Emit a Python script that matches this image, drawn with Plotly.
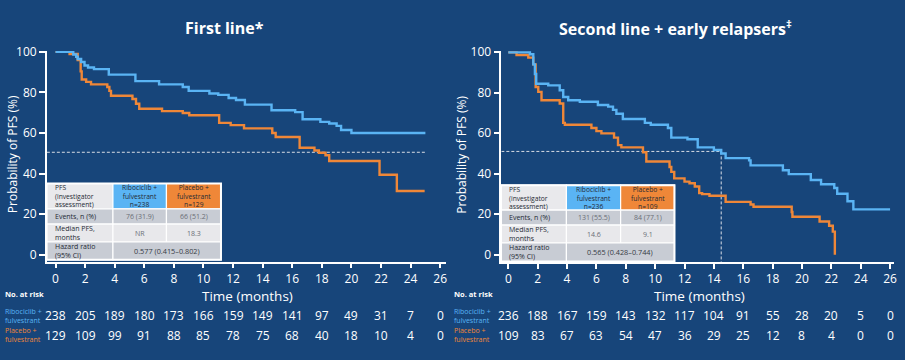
import plotly.graph_objects as go

# ---------------- data ----------------
# First line: Kaplan-Meier steps (months, % PFS)
FL_RIB_T = [0, 1.2, 1.4, 1.5, 1.73, 1.96, 2.2, 2.6, 3.6, 5.4, 7.0, 8.6, 9.0, 10.4, 11.0, 11.7,
            12.2, 12.8, 14.6, 16.2, 16.7, 17.9, 18.5, 19.0, 19.3, 20.0, 25.0]
FL_RIB_S = [100, 98.7, 97.6, 96.5, 95, 93.3, 92.3, 91.5, 88.8, 85.6, 84, 82.7, 80.8, 79.5, 78.8, 77.3,
            76.3, 74, 71.2, 70.3, 66.8, 65.5, 64.7, 63.5, 61.5, 60, 60]
FL_PBO_T = [0, 0.95, 1.5, 1.7, 1.77, 2.07, 2.4, 3.5, 3.64, 3.75, 5.2, 5.44, 5.66, 7.2, 8.6, 9.04,
            11.06, 11.84, 12.74, 14.65, 14.88, 16.5, 17.5, 17.8, 18.25, 18.5, 21.9, 23.07, 24.95]
FL_PBO_S = [100, 99, 96, 90.4, 86.4, 85.2, 84, 82.7, 80.8, 78.4, 76.8, 74.4, 72, 70.8, 69.9, 68.75,
            65, 63.9, 62.3, 60, 58, 52.7, 51.4, 50.3, 49, 46.2, 39.4, 31.4, 31.4]

# Second line + early relapsers
SL_RIB_T = [0, 1.47, 1.7, 1.81, 1.9, 2.72, 3.5, 3.74, 4.08, 4.87, 6.1, 6.8, 7.13, 7.36, 7.8, 9.3, 9.7,
            10.87, 11.1, 12.2, 12.9, 14.0, 14.5, 14.8, 16.4, 16.5, 18.7, 19.1, 20.6, 21.3, 22.2, 22.4,
            23.1, 23.5, 26.0]
SL_RIB_S = [100, 99, 94, 89.2, 84.4, 83.6, 81.2, 77.9, 76.3, 75.5, 73.9, 73.1, 71.5, 69.6, 67, 65.1, 64.2,
            62.6, 57.8, 57, 53, 51.7, 50, 47.7, 46.6, 44.1, 41.7, 39.8, 36.9, 34.8, 32.9, 30.1,
            26.4, 22.4, 22.4]
SL_PBO_T = [0, 0.56, 1.36, 1.7, 1.86, 2.04, 2.26, 3.5, 3.74, 3.85, 5.66, 6.0, 6.34, 7.2, 7.47, 7.7,
            9.17, 9.4, 10.98, 11.1, 11.3, 12.0, 12.34, 12.7, 13.0, 13.2, 13.7, 14.8, 16.5, 16.7,
            19.3, 19.35, 21.2, 21.85, 22.1, 22.24]
SL_PBO_S = [100, 98.6, 97.3, 94, 82.8, 80.4, 76.3, 74.7, 65.1, 64.2, 62.6, 61, 59.9, 57.8, 54.1, 53,
            50.6, 46, 43.3, 40.9, 37.7, 36.1, 35.3, 33.7, 30.4, 29.9, 29.1, 26.1, 24.8, 23.7,
            21.1, 18.7, 16.4, 14.3, 11.4, 0]

# Median reference lines
FL_MEDIAN_LEVEL = 50.5
FL_LINE_END = 25.0
SL_MEDIAN_LEVEL = 51
SL_MEDIAN_TIME = 14.5

# Numbers at risk
RISK_MONTHS = [0, 2, 4, 6, 8, 10, 12, 14, 16, 18, 20, 22, 24, 26]
FL_RISK_RIB = [238, 205, 189, 180, 173, 166, 159, 149, 141, 97, 49, 31, 7, 0]
FL_RISK_PBO = [129, 109, 99, 91, 88, 85, 78, 75, 68, 40, 18, 10, 4, 0]
SL_RISK_RIB = [236, 188, 167, 159, 143, 132, 117, 104, 91, 55, 28, 20, 5, 0]
SL_RISK_PBO = [109, 83, 67, 63, 54, 47, 36, 29, 25, 12, 8, 4, 0, 0]

X_TICKS = list(range(0, 27, 2))
Y_TICKS = [0, 20, 40, 60, 80, 100]

TITLES = ["First line*", "Second line + early relapsers<sup>‡</sup>"]
ARM_LABELS = ["Ribociclib +<br>fulvestrant", "Placebo +<br>fulvestrant"]

# Summary tables
TABLE_ROW_LABELS = ["Events, n (%)", "Median PFS,<br>months", "Hazard ratio<br>(95% CI)"]
TABLE_CORNER = "PFS<br>(investigator<br>assessment)"
FL_HEADERS = ["Ribociclib +<br>fulvestrant<br>n=238", "Placebo +<br>fulvestrant<br>n=129"]
FL_EVENTS = ["76 (31.9)", "66 (51.2)"]
FL_MEDIANS = ["NR", "18.3"]
FL_HR = "0.577 (0.415–0.802)"
SL_HEADERS = ["Ribociclib +<br>fulvestrant<br>n=236", "Placebo +<br>fulvestrant<br>n=109"]
SL_EVENTS = ["131 (55.5)", "84 (77.1)"]
SL_MEDIANS = ["14.6", "9.1"]
SL_HR = "0.565 (0.428–0.744)"

# ---------------- style ----------------
W, H = 905, 360
BG = "#17457a"
BLUE = "#5ab4f4"
ORANGE = "#ef8738"
WHITE = "#ffffff"
FONT = "Open Sans"


def px(x):
    return x / W


def py(y):
    return 1 - y / H


fig = go.Figure()

panels = [
    dict(xa="x", ya="y", xd=[47, 447], xr=[-0.586, 26.36], yd=[44, 260], yr=[-3.37, 100.5],
         rib=(FL_RIB_T, FL_RIB_S), pbo=(FL_PBO_T, FL_PBO_S), left=0,
         risk=(FL_RISK_RIB, FL_RISK_PBO), title_x=225,
         table=dict(cols=[46.7, 113.3, 167, 221.7], rows=[180, 206, 221.7, 240, 258.3],
                    headers=FL_HEADERS, events=FL_EVENTS, medians=FL_MEDIANS, hr=FL_HR)),
    dict(xa="x2", ya="y2", xd=[503, 897], xr=[-0.476, 26.27], yd=[44.3, 260.7], yr=[-3.7, 100.5],
         rib=(SL_RIB_T, SL_RIB_S), pbo=(SL_PBO_T, SL_PBO_S), left=451,
         risk=(SL_RISK_RIB, SL_RISK_PBO), title_x=678,
         table=dict(cols=[502.7, 568.3, 622.7, 676.7], rows=[181.7, 207.3, 222.7, 241, 260],
                    headers=SL_HEADERS, events=SL_EVENTS, medians=SL_MEDIANS, hr=SL_HR)),
]

annotations = []
shapes = []

for i, p in enumerate(panels):
    xa, ya = p["xa"], p["ya"]
    # curves
    fig.add_trace(go.Scatter(x=p["pbo"][0], y=p["pbo"][1], mode="lines", line_shape="hv",
                             line=dict(color=ORANGE, width=2.4), xaxis=xa, yaxis=ya,
                             hoverinfo="skip"))
    fig.add_trace(go.Scatter(x=p["rib"][0], y=p["rib"][1], mode="lines", line_shape="hv",
                             line=dict(color=BLUE, width=2.4), xaxis=xa, yaxis=ya,
                             hoverinfo="skip"))

    # titles
    annotations.append(dict(text="<b>" + TITLES[i] + "</b>", x=px(p["title_x"]), y=py(21),
                            xref="paper", yref="paper", showarrow=False,
                            font=dict(family=FONT, size=16, color=WHITE),
                            xanchor="center", yanchor="middle"))
    # y title
    annotations.append(dict(text="Probability of PFS (%)", x=px(p["left"] + 12), y=py(150),
                            xref="paper", yref="paper", showarrow=False, textangle=-90,
                            font=dict(family=FONT, size=12, color=WHITE),
                            xanchor="center", yanchor="middle"))
    # x title
    annotations.append(dict(text="Time (months)", x=13, y=py(295.5),
                            xref=xa, yref="paper", showarrow=False,
                            font=dict(family=FONT, size=13.5, color=WHITE),
                            xanchor="center", yanchor="middle"))
    # No. at risk
    annotations.append(dict(text="<b>No. at risk</b>", x=px(p["left"] + 3), y=py(293),
                            xref="paper", yref="paper", showarrow=False,
                            font=dict(family=FONT, size=7.5, color=WHITE),
                            xanchor="left", yanchor="middle"))
    for lab, col, yy in [(ARM_LABELS[0], BLUE, 315.5), (ARM_LABELS[1], ORANGE, 335.5)]:
        annotations.append(dict(text=lab, x=px(p["left"] + 3), y=py(yy),
                                xref="paper", yref="paper", showarrow=False, align="left",
                                font=dict(family=FONT, size=7, color=col),
                                xanchor="left", yanchor="middle"))
    for vals, yy in [(p["risk"][0], 315.7), (p["risk"][1], 335.7)]:
        for m, v in zip(RISK_MONTHS, vals):
            annotations.append(dict(text=str(v), x=m, y=py(yy), xref=xa, yref="paper",
                                    showarrow=False, font=dict(family=FONT, size=12, color=WHITE),
                                    xanchor="center", yanchor="middle"))

    # summary table
    t = p["table"]
    c, r = t["cols"], t["rows"]
    cell_fill = [
        ["#e9e9ec", BLUE, ORANGE],
        ["#c8ccd4", "#c8ccd4", "#c8ccd4"],
        ["#e8e8eb", "#e8e8eb", "#e8e8eb"],
        ["#c8ccd4", "#c8ccd4", "#c8ccd4"],
    ]
    for ri in range(4):
        spans = [(0, 1), (1, 2), (2, 3)] if ri < 3 else [(0, 1), (1, 3)]
        for si, (a, b) in enumerate(spans):
            shapes.append(dict(type="rect", xref="paper", yref="paper",
                               x0=px(c[a]), x1=px(c[b]), y0=py(r[ri + 1]), y1=py(r[ri]),
                               fillcolor=cell_fill[ri][a], line=dict(color=WHITE, width=1.2),
                               layer="above"))
    shapes.append(dict(type="rect", xref="paper", yref="paper",
                       x0=px(c[0]), x1=px(c[3]), y0=py(r[4]), y1=py(r[0]),
                       fillcolor="rgba(0,0,0,0)", line=dict(color=WHITE, width=2),
                       layer="above"))
    hf = dict(family=FONT, size=6.7, color="#252a34")
    tf = dict(family=FONT, size=7, color="#252a34")
    gf = dict(family=FONT, size=7, color="#6a6e76")
    first_col = [TABLE_CORNER] + TABLE_ROW_LABELS
    for ri in range(4):
        annotations.append(dict(text=first_col[ri], x=px(c[0] + 6), y=py((r[ri] + r[ri + 1]) / 2),
                                xref="paper", yref="paper", showarrow=False, align="left",
                                font=hf if ri == 0 else tf, xanchor="left", yanchor="middle"))
    row_vals = [t["headers"], t["events"], t["medians"]]
    for ri in range(3):
        for k in range(2):
            annotations.append(dict(text=row_vals[ri][k], x=px((c[k + 1] + c[k + 2]) / 2),
                                    y=py((r[ri] + r[ri + 1]) / 2),
                                    xref="paper", yref="paper", showarrow=False, align="center",
                                    font=hf if ri == 0 else gf, xanchor="center", yanchor="middle"))
    annotations.append(dict(text=t["hr"], x=px((c[1] + c[3]) / 2), y=py((r[3] + r[4]) / 2),
                            xref="paper", yref="paper", showarrow=False,
                            font=dict(family=FONT, size=7.3, color="#363b44"),
                            xanchor="center", yanchor="middle"))

# median dashed lines
dash = dict(color="#d8dce4", width=1, dash="3px,2px")
shapes.append(dict(type="line", xref="x", yref="y", x0=panels[0]["xr"][0], x1=FL_LINE_END,
                   y0=FL_MEDIAN_LEVEL, y1=FL_MEDIAN_LEVEL, line=dash, layer="below"))
shapes.append(dict(type="line", xref="x2", yref="y2", x0=panels[1]["xr"][0], x1=SL_MEDIAN_TIME,
                   y0=SL_MEDIAN_LEVEL, y1=SL_MEDIAN_LEVEL, line=dash, layer="below"))
shapes.append(dict(type="line", xref="x2", yref="y2", x0=SL_MEDIAN_TIME, x1=SL_MEDIAN_TIME,
                   y0=SL_MEDIAN_LEVEL, y1=panels[1]["yr"][0], line=dash, layer="below"))

axis_common = dict(showline=True, linecolor=WHITE, linewidth=1.5, ticks="outside",
                   tickcolor=WHITE, tickwidth=1.5, showgrid=False, zeroline=False,
                   fixedrange=True)

layout = dict(width=W, height=H, paper_bgcolor=BG, plot_bgcolor=BG,
              margin=dict(l=0, r=0, t=0, b=0), showlegend=False,
              annotations=annotations, shapes=shapes)
for i, p in enumerate(panels):
    sfx = "" if i == 0 else "2"
    layout["xaxis" + sfx] = dict(axis_common, domain=[px(p["xd"][0]), px(p["xd"][1])],
                                 range=p["xr"], tickvals=X_TICKS, ticklen=5,
                                 tickfont=dict(family=FONT, size=12, color=WHITE),
                                 anchor="y" + sfx)
    layout["yaxis" + sfx] = dict(axis_common, domain=[py(p["yd"][1]), py(p["yd"][0])],
                                 range=p["yr"], tickvals=Y_TICKS, ticklen=6,
                                 tickfont=dict(family=FONT, size=12, color=WHITE),
                                 anchor="x" + sfx)

fig.update_layout(**layout)
fig.write_html(
    "out.html",
    config={"displayModeBar": False},
    post_script="document.body.style.margin='0';document.body.style.overflow='hidden';",
)
